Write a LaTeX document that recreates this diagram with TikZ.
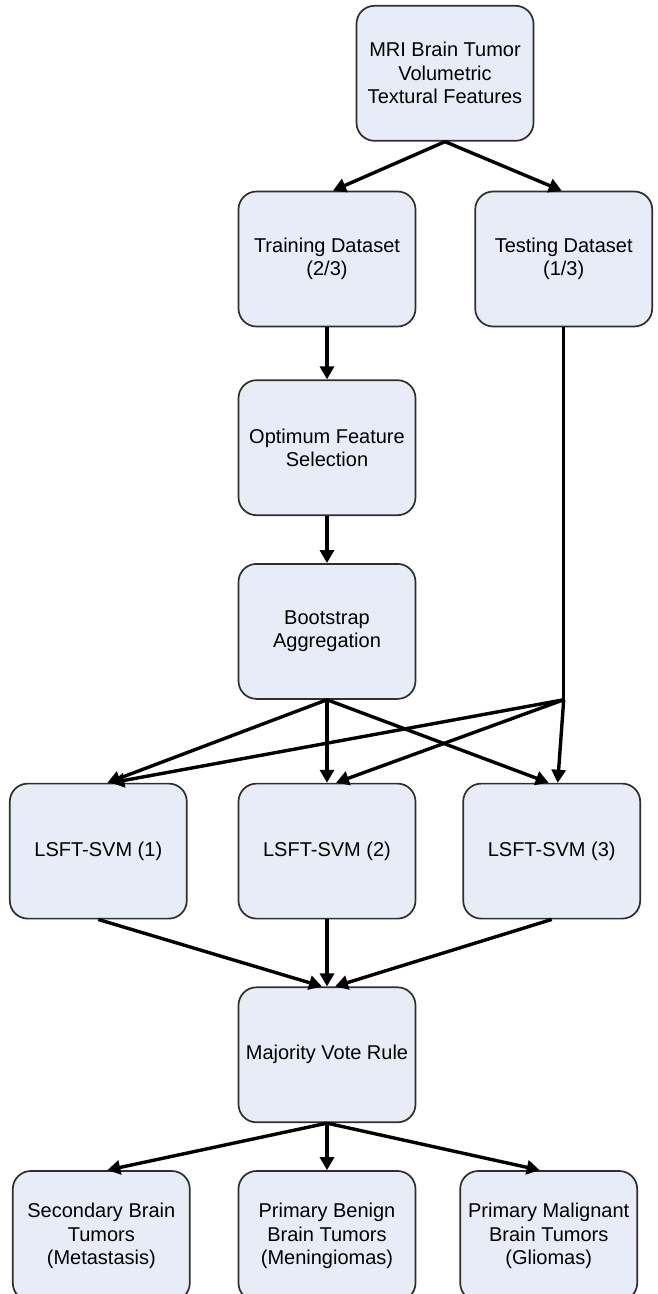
\documentclass[tikz,border=0pt]{standalone}
\usepackage{fontspec}
\setmainfont{Liberation Sans}
\usetikzlibrary{arrows.meta,positioning}
\definecolor{boxfill}{HTML}{E8ECF7}
\definecolor{boxline}{HTML}{2E2E2E}

\begin{document}
\begin{tikzpicture}[
    > = {Triangle[length=13pt,width=14pt]}, % arrow head style
    x = 1pt, y = 1pt, % one unit per pixel
    line width = 3.4pt % connector line style
    ]

    \tikzset{box/.style={
    draw = boxline,
    line width = 1.7pt,
    fill = boxfill,
    rounded corners = 18pt,
    minimum width = 177pt,
    minimum height = 135pt,
    align = center,
    font = \fontsize{20}{23.5}\selectfont
    }}

    \useasboundingbox (0,0) rectangle (658,-1294);

    \node[box] (train) at (327,-259) {Training Dataset\\(2/3)};
    \node[box] (top) [above=49pt of train, xshift=118pt] {MRI Brain Tumor\\Volumetric\\Textural Features};
    \node[box] (test) [right=58pt of train] {Testing Dataset\\(1/3)};
    \node[box] (opt) [below=52pt of train] {Optimum Feature\\Selection};
    \node[box] (boot) [below=47pt of opt] {Bootstrap\\Aggregation};
    \node[box] (svm2) [below=83pt of boot] {LSFT-SVM (2)};
    \node[box] (svm1) [left=50pt of svm2] {LSFT-SVM (1)};
    \node[box] (svm3) [right=46pt of svm2] {LSFT-SVM (3)};
    \node[box] (vote) [below=67pt of svm2] {Majority Vote Rule};
    \node[box, minimum height=130pt] (ben) [below=47pt of vote] {Primary Benign\\Brain Tumors\\(Meningiomas)};
    \node[box, minimum height=130pt] (sec) [left=47pt of ben] {Secondary Brain\\Tumors\\(Metastasis)};
    \node[box, minimum height=130pt] (mal) [right=43pt of ben] {Primary Malignant\\Brain Tumors\\(Gliomas)};

    \coordinate (tjoin) at (test.south |- boot.south);

    \path[->] (top.south) edge ([xshift=6pt]train.north);
    \path[->] (top.south) edge ([xshift=-2pt]test.north);
    \path[->] (train) edge (opt);
    \path[->] (opt) edge (boot);
    \draw (test.south) -- (tjoin);
    \path[->] (boot.south) edge ([xshift=9pt]svm1.north);
    \path[->] (boot.south) edge (svm2.north);
    \path[->] (boot.south) edge ([xshift=-3pt]svm3.north);
    \path[->] (tjoin) edge ([xshift=13pt]svm1.north);
    \path[->] (tjoin) edge ([xshift=9pt]svm2.north);
    \path[->] (tjoin) edge ([xshift=6pt]svm3.north);
    \path[->] (svm1.south) edge ([xshift=-5pt]vote.north);
    \path[->] (svm2.south) edge (vote.north);
    \path[->] (svm3.south) edge ([xshift=8pt]vote.north);
    \path[->] (vote.south) edge ([xshift=6pt]sec.north);
    \path[->] (vote.south) edge (ben.north);
    \path[->] (vote.south) edge ([xshift=-9pt]mal.north);
\end{tikzpicture}
\end{document}
